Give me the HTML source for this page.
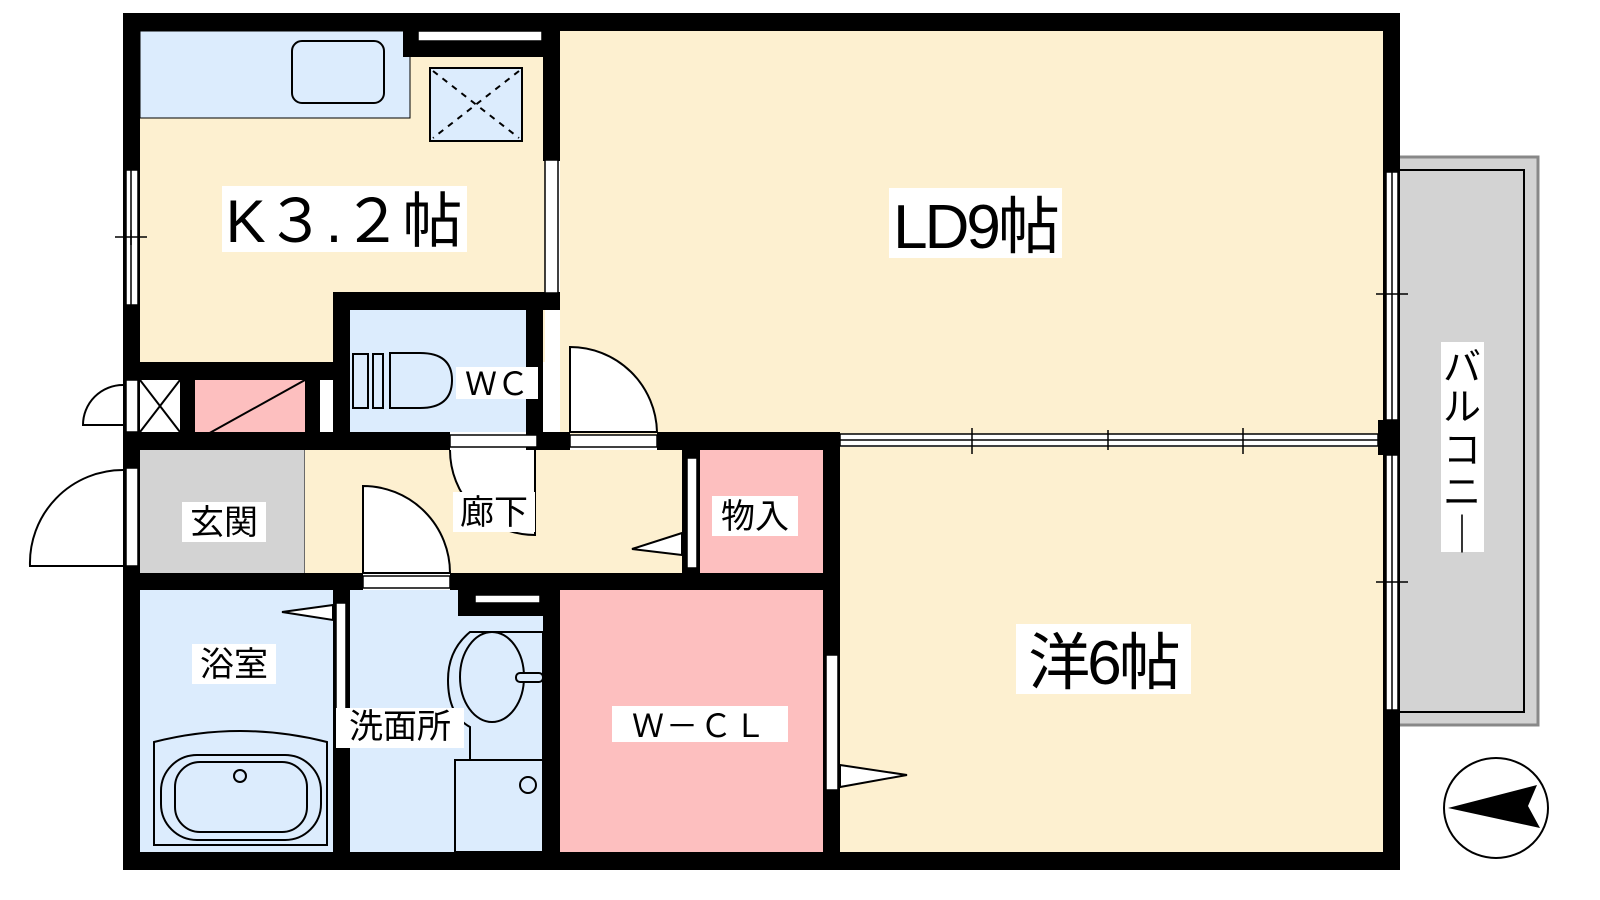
<!DOCTYPE html>
<html><head><meta charset="utf-8"><style>
html,body{margin:0;padding:0;background:#fff;width:1600px;height:900px;overflow:hidden}
svg text{font-family:"Liberation Sans","Noto Sans CJK JP",sans-serif;fill:#000}
</style></head><body>
<svg width="1600" height="900" viewBox="0 0 1600 900" xmlns="http://www.w3.org/2000/svg">
<!-- balcony -->
<rect x="1398" y="157" width="140" height="568" fill="#d3d3d3" stroke="#888" stroke-width="3"/>
<rect x="1398" y="170" width="126" height="542" fill="none" stroke="#000" stroke-width="2"/>
<!-- rooms -->
<rect x="140" y="31" width="405" height="331" fill="#fdf0d0"/>
<rect x="140" y="31" width="270" height="87" fill="#dcecfd" stroke="#000" stroke-width="1"/>
<rect x="292" y="41" width="92" height="62" rx="10" fill="none" stroke="#000" stroke-width="2"/>
<rect x="430" y="68" width="92" height="73" fill="#dcecfd" stroke="#000" stroke-width="2"/>
<path d="M433 71L519 138M519 71L433 138" stroke="#000" stroke-width="2" stroke-dasharray="6,6"/>
<rect x="560" y="31" width="823" height="406" fill="#fdf0d0"/>
<rect x="840" y="447" width="543" height="405" fill="#fdf0d0"/>
<rect x="350" y="310" width="193" height="122" fill="#dcecfd"/>
<rect x="140" y="380" width="40" height="52" fill="#fff"/>
<path d="M140 380L180 432M180 380L140 432" stroke="#000" stroke-width="2"/>
<rect x="195" y="380" width="110" height="52" fill="#fdbfbf"/>
<path d="M197 440L305 380" stroke="#000" stroke-width="2"/>
<rect x="320" y="380" width="13" height="52" fill="#fff"/>
<rect x="140" y="450" width="165" height="123" fill="#d3d3d3"/>
<line x1="305" y1="450" x2="305" y2="573" stroke="#000" stroke-width="1"/>
<rect x="305" y="450" width="377" height="123" fill="#fdf0d0"/>
<rect x="700" y="450" width="123" height="123" fill="#fdbfbf"/>
<rect x="560" y="590" width="263" height="262" fill="#fdbfbf"/>
<rect x="350" y="590" width="193" height="262" fill="#dcecfd"/>
<rect x="140" y="590" width="193" height="262" fill="#dcecfd"/>
<!-- bathtub -->
<path d="M154 742Q240 720 327 742V845H154Z" fill="none" stroke="#000" stroke-width="2"/>
<rect x="161" y="755" width="160" height="85" rx="36" fill="none" stroke="#000" stroke-width="2"/>
<rect x="175" y="762" width="132" height="70" rx="25" fill="none" stroke="#000" stroke-width="2"/>
<circle cx="240" cy="776" r="6" fill="none" stroke="#000" stroke-width="2"/>
<!-- wash basin -->
<path d="M470 632Q448 650 448 680Q448 715 470 727V760H543V632Z" fill="none" stroke="#000" stroke-width="2"/>
<ellipse cx="492" cy="677" rx="32" ry="45" fill="#dcecfd" stroke="#000" stroke-width="2"/>
<rect x="516" y="673" width="27" height="9" rx="4" fill="#dcecfd" stroke="#000" stroke-width="2"/>
<rect x="455" y="760" width="88" height="92" fill="none" stroke="#000" stroke-width="2"/>
<circle cx="528" cy="785" r="8" fill="none" stroke="#000" stroke-width="2"/>
<!-- toilet -->
<path d="M390 353H420Q452 353 452 380Q452 408 420 408H390Z" fill="#dcecfd" stroke="#000" stroke-width="2"/>
<rect x="353" y="354" width="15" height="54" fill="none" stroke="#000" stroke-width="2"/>
<rect x="373" y="354" width="10" height="54" fill="none" stroke="#000" stroke-width="2"/>
<!-- walls -->
<g fill="#000">
<rect x="123" y="13" width="1277" height="18"/>
<rect x="123" y="852" width="1277" height="18"/>
<rect x="123" y="13" width="17" height="857"/>
<rect x="1383" y="13" width="17" height="857"/>
<rect x="403" y="31" width="142" height="26"/>
<rect x="543" y="31" width="17" height="130"/>
<rect x="333" y="292" width="227" height="18"/>
<rect x="333" y="292" width="17" height="158"/>
<rect x="526" y="292" width="17" height="158"/>
<rect x="123" y="362" width="227" height="18"/>
<rect x="180" y="362" width="15" height="70"/>
<rect x="305" y="362" width="15" height="70"/>
<rect x="123" y="432" width="197" height="18"/>
<rect x="305" y="432" width="145" height="18"/>
<rect x="537" y="432" width="33" height="18"/>
<rect x="657" y="432" width="183" height="18"/>
<rect x="682" y="450" width="18" height="123"/>
<rect x="823" y="432" width="17" height="438"/>
<rect x="123" y="573" width="240" height="17"/>
<rect x="450" y="573" width="390" height="17"/>
<rect x="333" y="573" width="17" height="297"/>
<rect x="543" y="573" width="17" height="297"/>
<rect x="458" y="590" width="85" height="26"/>
<rect x="1378" y="420" width="22" height="35"/>
</g>
<!-- windows / openings -->
<g fill="#fff" stroke="#000" stroke-width="1.5">
<rect x="418" y="31" width="124" height="10"/>
<rect x="475" y="595" width="65" height="8"/>
<rect x="545" y="160" width="13" height="133"/>
<rect x="126" y="170" width="12" height="135"/>
<rect x="126" y="380" width="12" height="52"/>
<rect x="126" y="468" width="12" height="98"/>
<rect x="1386" y="172" width="12" height="248"/>
<rect x="1386" y="455" width="12" height="255"/>
<rect x="840" y="434" width="538" height="12"/>
<rect x="450" y="435" width="87" height="12"/>
<rect x="570" y="435" width="87" height="12"/>
<rect x="363" y="576" width="87" height="12"/>
<rect x="687" y="458" width="10" height="110"/>
<rect x="826" y="655" width="12" height="135"/>
<rect x="336" y="603" width="10" height="107"/>
</g>
<g stroke="#000" stroke-width="1.5" fill="none">
<line x1="131" y1="170" x2="131" y2="305"/>
<line x1="1392" y1="172" x2="1392" y2="420"/><line x1="1392" y1="455" x2="1392" y2="710"/>
<line x1="840" y1="440" x2="1378" y2="440"/>
<line x1="115" y1="237" x2="147" y2="237"/><line x1="131" y1="230" x2="131" y2="245"/>
<line x1="1376" y1="294" x2="1408" y2="294"/><line x1="1376" y1="582" x2="1408" y2="582"/>
<line x1="972" y1="428" x2="972" y2="454"/><line x1="1108" y1="430" x2="1108" y2="450"/><line x1="1243" y1="428" x2="1243" y2="454"/>
</g>
<!-- doors -->
<g fill="#fff" stroke="#000" stroke-width="2">
<path d="M570 432V347A87 87 0 0 1 657 432Z"/>
<path d="M363 573V486A87 87 0 0 1 450 573Z"/>
<path d="M450 450A85 85 0 0 0 535 535V450" fill="#fff"/>
<path d="M123 566H30A93 93 0 0 1 123 470" />
<path d="M123 425H83A40 40 0 0 1 123 385"/>
<path d="M333 605L282 612L333 620Z"/>
<path d="M682 533L632 549L682 555Z"/>
<path d="M840 765L907 775L840 787Z"/>
</g>
<!-- compass -->
<ellipse cx="1496" cy="808" rx="52" ry="50" fill="#fff" stroke="#000" stroke-width="2"/>
<path d="M1448 808L1537 785L1528 806L1540 828Z" fill="#000"/>
<!-- labels -->
<g>
<rect x="222" y="186" width="245" height="66" fill="#fff"/>
<text x="344" y="242" font-size="60" text-anchor="middle">K３.２帖</text>
<rect x="889" y="188" width="173" height="70" fill="#fff"/>
<text x="975" y="248" font-size="62" text-anchor="middle" letter-spacing="-3">LD9帖</text>
<rect x="1016" y="624" width="175" height="70" fill="#fff"/>
<text x="1103" y="684" font-size="62" text-anchor="middle" letter-spacing="-3">洋6帖</text>
<rect x="1441" y="342" width="43" height="210" fill="#fff"/>
<text x="1462" y="380" font-size="38" text-anchor="middle">バ</text>
<text x="1462" y="420" font-size="38" text-anchor="middle">ル</text>
<text x="1462" y="463" font-size="38" text-anchor="middle">コ</text>
<text x="1462" y="505" font-size="38" text-anchor="middle">ニ</text>
<text x="1462" y="548" font-size="38" text-anchor="middle">｜</text>
<rect x="456" y="367" width="82" height="32" fill="#fff"/>
<text x="497" y="395" font-size="32" text-anchor="middle">ＷＣ</text>
<rect x="453" y="492" width="82" height="40" fill="#fff"/>
<text x="494" y="524" font-size="34" text-anchor="middle">廊下</text>
<rect x="712" y="496" width="86" height="40" fill="#fff"/>
<text x="755" y="528" font-size="34" text-anchor="middle">物入</text>
<rect x="182" y="502" width="84" height="40" fill="#fff"/>
<text x="224" y="534" font-size="34" text-anchor="middle">玄関</text>
<rect x="192" y="644" width="84" height="40" fill="#fff"/>
<text x="234" y="676" font-size="34" text-anchor="middle">浴室</text>
<rect x="336" y="708" width="128" height="40" fill="#fff"/>
<text x="400" y="738" font-size="34" text-anchor="middle">洗面所</text>
<rect x="612" y="706" width="176" height="36" fill="#fff"/>
<text x="700" y="737" font-size="32" text-anchor="middle" letter-spacing="2">Ｗ－ＣＬ</text>
</g>
</svg>
</body></html>
